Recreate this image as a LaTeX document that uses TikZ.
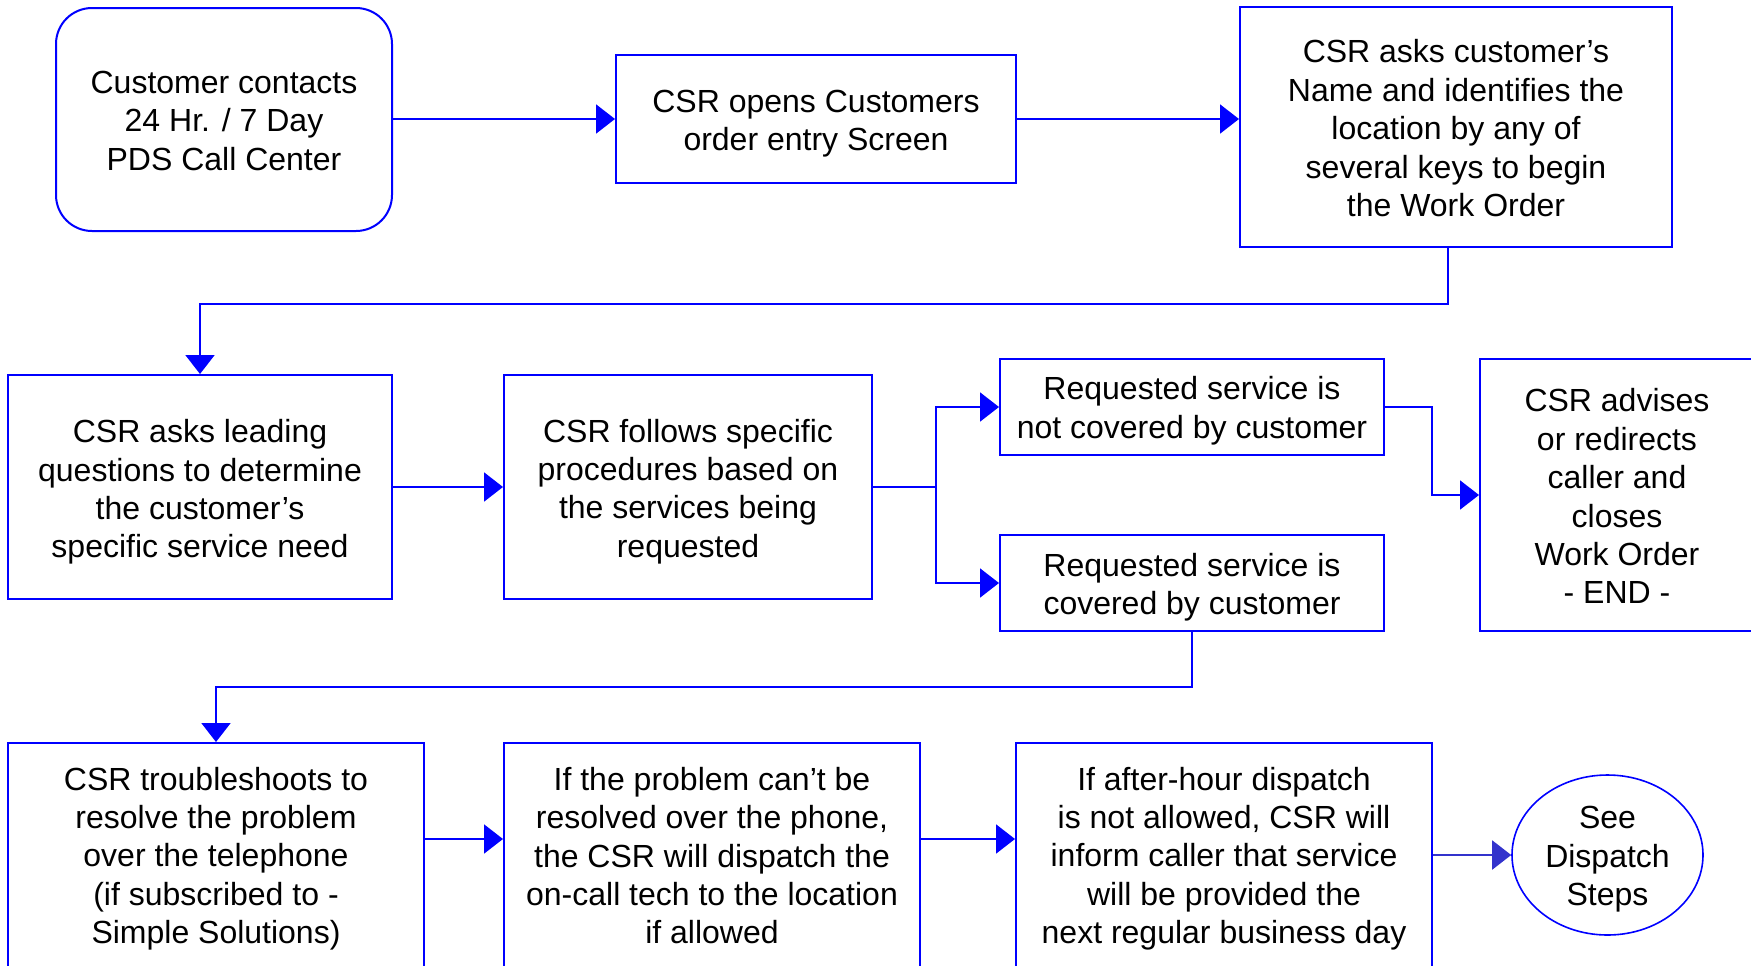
\documentclass[tikz,border=0pt]{standalone}
\usepackage{fontspec}
\setmainfont{Liberation Sans}
\usetikzlibrary{arrows.meta,shapes.geometric}
\definecolor{lineblue}{RGB}{0,0,255}
\definecolor{arrblue}{RGB}{51,51,204}
\tikzset{
  box/.style={draw=lineblue, line width=1pt, inner sep=0pt},
  txt/.style={inner sep=0pt, align=center, font=\fontsize{16}{19.2}\selectfont, text=black},
  arr/.style={draw=lineblue, line width=1pt, -{Triangle[length=9.5pt,width=14.5pt]}},
  link/.style={draw=lineblue, line width=1pt}
}
\begin{document}
\begin{tikzpicture}[x=0.5pt,y=-0.5pt]
\useasboundingbox (0,0) rectangle (1751,965);
\clip (0,0) rectangle (1751,965);
% row 1
\node[box, rounded corners=18pt, minimum width=168pt, minimum height=111.5pt] (b1) at (224,119.5) {};
\node[txt] (t1) at ([yshift=-0.6pt]b1.center) {Customer contacts\\24 Hr. / 7 Day\\PDS Call Center};
\node[box, minimum width=200pt, minimum height=64pt] (b2) at (816,119) {};
\node[txt] (t2) at ([yshift=-2.2pt]b2.center) {CSR opens Customers\\order entry Screen};
\node[box, minimum width=216pt, minimum height=120pt] (b3) at (1456,127) {};
\node[txt] (t3) at ([yshift=-0.6pt]b3.center) {CSR asks customer’s\\Name and identifies the\\location by any of\\several keys to begin\\the Work Order};
% row 2
\node[box, minimum width=192pt, minimum height=112pt] (b4) at (200,487) {};
\node[txt] (t4) at ([yshift=-2.5pt]b4.center) {CSR asks leading\\questions to determine\\the customer’s\\specific service need};
\node[box, minimum width=184pt, minimum height=112pt] (b5) at (688,487) {};
\node[txt] (t5) at ([yshift=-2.2pt]b5.center) {CSR follows specific\\procedures based on\\the services being\\requested};
\node[box, minimum width=192pt, minimum height=48pt] (b6) at (1192,407) {};
\node[txt] (t6) at ([yshift=-1.8pt]b6.center) {Requested service is\\not covered by customer};
\node[box, minimum width=192pt, minimum height=48pt] (b7) at (1192,583) {};
\node[txt] (t7) at ([yshift=-2.2pt]b7.center) {Requested service is\\covered by customer};
\node[box, minimum width=137pt, minimum height=136pt] (b8) at (1617,495) {};
\node[txt] (t8) at ([yshift=-0.6pt]b8.center) {CSR advises\\or redirects\\caller and\\closes\\Work Order\\- END -};
% row 3
\node[box, minimum width=208pt, minimum height=112pt] (b9) at (216,855) {};
\node[txt] (t9) at ([yshift=-1.8pt]b9.center) {CSR troubleshoots to\\resolve the problem\\over the telephone\\(if subscribed to -\\Simple Solutions)};
\node[box, minimum width=208pt, minimum height=112pt] (b10) at (712,855) {};
\node[txt] (t10) at ([yshift=-0.3pt]b10.center) {If the problem can’t be\\resolved over the phone,\\the CSR will dispatch the\\on-call tech to the location\\if allowed};
\node[box, minimum width=208pt, minimum height=112pt] (b11) at (1224,855) {};
\node[txt] (t11) at ([yshift=-1.8pt]b11.center) {If after-hour dispatch\\is not allowed, CSR will\\inform caller that service\\will be provided the\\next regular business day};
\node[box, ellipse, line width=0.8pt, minimum width=95.5pt, minimum height=80pt] (e1) at (1607.5,855) {};
\node[txt] (te) at ([yshift=-2.2pt]e1.center) {See\\Dispatch\\Steps};
% junctions
\coordinate (j1) at (1448,304);
\coordinate (j2) at (936,487);
\coordinate (j3) at (1432,495);
\coordinate (j4) at (1192,687);
% connectors
\draw[arr] (b1.east |- b2.west) -- (b2.west);
\draw[arr] (b2.east) -- (b2.east -| b3.west);
\draw[arr] (j1 |- b3.south) -- (j1) -| (b4.north);
\draw[arr] (b4.east) -- (b5.west);
\draw[link] (b5.east) -- (j2);
\draw[arr] (j2) |- (b6.west);
\draw[arr] (j2) |- (b7.west);
\draw[arr] (b6.east) -| (j3) -- (b8.west);
\draw[arr] (b7.south) -- (j4) -| (b9.north);
\draw[arr] ([yshift=8pt]b9.east) -- ([yshift=8pt]b10.west);
\draw[arr] ([yshift=8pt]b10.east) -- ([yshift=8pt]b11.west);
\draw[arr, draw=arrblue, fill=arrblue] (b11.east) -- (e1.west);
\end{tikzpicture}
\end{document}
